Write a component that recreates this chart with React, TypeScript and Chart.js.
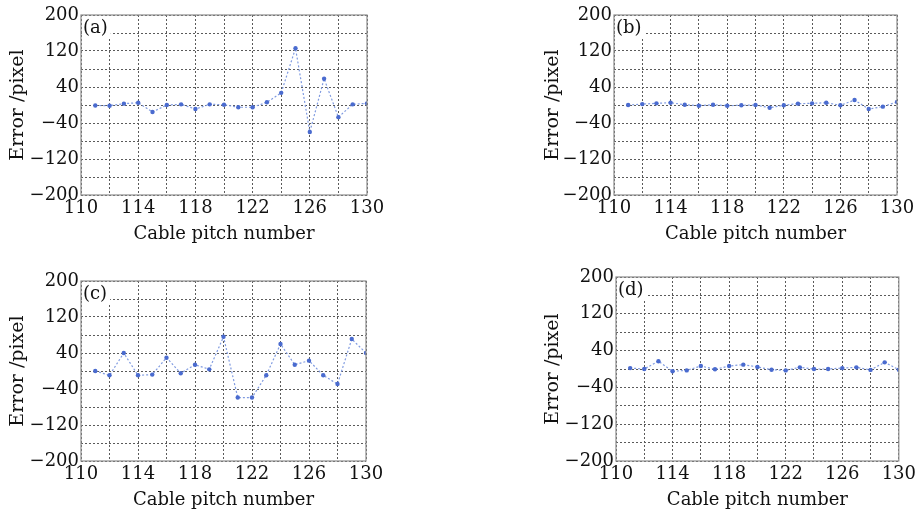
import React, { useEffect, useRef } from "react";
import { Chart, registerables } from "chart.js";

Chart.register(...registerables);

const pitchNumbers = [111, 112, 113, 114, 115, 116, 117, 118, 119, 120, 121, 122, 123, 124, 125, 126, 127, 128, 129, 130];
const errorsA = [-1, -1.5, 3, 5, -15.5, 0, 1.5, -9, 1.5, 0.7, -5, -5, 6, 27, 126, -60, 58.5, -27, 1.5, 3.7];
const errorsB = [0, 2, 3.7, 5, 0.7, -1.5, 0.7, -1.5, -0.7, 0, -6, -0.7, 3, 3.7, 5, -0.7, 11, -9, -3.7, 6.7];
const errorsC = [0, -9.6, 40, -9.6, -8, 29.6, -5, 14, 3.7, 76, -59, -59, -9.6, 60, 14, 23, -9.6, -29, 71, 40];
const errorsD = [2, 0, 17, -5, -3, 6.5, -0.7, 6.5, 9.5, 4.4, -1.5, -3, 3.6, 0, 0, 2, 3.6, -2, 14.5, -1.5];
const panelLabels = ["(a)", "(b)", "(c)", "(d)"];
const xTitle = "Cable pitch number";
const yTitle = "Error /pixel";

const FONT = "'DejaVu Serif', serif";

type Panel = {
  data: number[];
  label: string;
  cl: number; ct: number; cw: number; ch: number; // canvas box
  pl: number; pr: number; pt: number; pb: number; // plot box (absolute)
  ytc: number; // y title center (absolute x)
};

const panels: Panel[] = [
  { data: errorsA, label: panelLabels[0], cl: 0, ct: 0, cw: 400, ch: 250, pl: 81, pr: 367, pt: 15, pb: 195, ytc: 18.5 },
  { data: errorsB, label: panelLabels[1], cl: 520, ct: 0, cw: 399, ch: 250, pl: 614, pr: 897, pt: 15, pb: 195, ytc: 553.5 },
  { data: errorsC, label: panelLabels[2], cl: 0, ct: 256, cw: 400, ch: 257, pl: 81, pr: 366, pt: 281, pb: 461, ytc: 18.5 },
  { data: errorsD, label: panelLabels[3], cl: 520, ct: 256, cw: 399, ch: 257, pl: 616, pr: 899, pt: 277, pb: 461, ytc: 553.5 },
];

function ErrorChart({ p }: { p: Panel }) {
  const ref = useRef<HTMLCanvasElement>(null);
  useEffect(() => {
    if (!ref.current) return;
    const yWidth = p.pl - p.cl;
    const xHeight = p.ct + p.ch - p.pb;
    const padTop = p.pt - p.ct;
    const padRight = p.cl + p.cw - p.pr;
    const xTitleLH = 18 * 1.2;
    const yTitleLH = 19 * 1.2;
    const xTitlePad = xHeight - 39.5 - xTitleLH / 2;
    const yTitlePad = p.ytc - p.cl - yTitleLH / 2;

    const framePlugin = {
      id: "frame",
      afterDraw(chart: any) {
        const { ctx, chartArea: a } = chart;
        ctx.save();
        ctx.strokeStyle = "#8c8c8c";
        ctx.lineWidth = 1.2;
        ctx.strokeRect(a.left, a.top, a.right - a.left, a.bottom - a.top);
        ctx.font = `18px ${FONT}`;
        ctx.textBaseline = "alphabetic";
        const w = ctx.measureText(p.label).width;
        ctx.fillStyle = "#ffffff";
        ctx.fillRect(a.left + 1, a.top + 1, w + 4, 22);
        ctx.fillStyle = "#111";
        ctx.fillText(p.label, a.left + 2, a.top + 18);
        ctx.restore();
      },
    };

    const chart = new Chart(ref.current, {
      type: "line",
      data: {
        datasets: [
          {
            data: pitchNumbers.map((x, i) => ({ x, y: p.data[i] })),
            borderColor: "#7f9ae0",
            borderWidth: 1.2,
            borderDash: [2, 2],
            pointRadius: 2.2,
            pointStyle: "circle",
            pointBackgroundColor: "#4a6bcf",
            pointBorderColor: "#4a6bcf",
            pointBorderWidth: 0,
            tension: 0,
            fill: false,
          },
        ],
      },
      options: {
        animation: false,
        responsive: false,
        layout: { padding: { left: 0, top: padTop, right: padRight, bottom: 0 } },
        plugins: { legend: { display: false }, tooltip: { enabled: false } },
        scales: {
          x: {
            type: "linear",
            min: 110,
            max: 130,
            afterFit: (s: any) => { s.height = xHeight; },
            ticks: {
              stepSize: 2,
              autoSkip: false,
              maxRotation: 0,
              padding: 3,
              color: "#111",
              font: { family: FONT, size: 18 },
              callback: (v: any) => ((Number(v) - 110) % 4 === 0 ? String(v) : ""),
            },
            grid: { color: "#5a5a5a", drawTicks: false, lineWidth: 1 },
            border: { display: false, dash: [2, 2] },
            title: {
              display: true,
              text: xTitle,
              color: "#111",
              font: { family: FONT, size: 18 },
              padding: { top: 0, bottom: xTitlePad },
            },
          },
          y: {
            type: "linear",
            min: -200,
            max: 200,
            afterFit: (s: any) => { s.width = yWidth; },
            ticks: {
              stepSize: 40,
              autoSkip: false,
              padding: 2,
              color: "#111",
              font: { family: FONT, size: 18 },
              callback: (v: any) => {
                const n = Number(v);
                if ((n + 200) % 80 !== 0) return "";
                return n < 0 ? "\u2212" + Math.abs(n) : String(n);
              },
            },
            grid: { color: "#5a5a5a", drawTicks: false, lineWidth: 1 },
            border: { display: false, dash: [2, 2] },
            title: {
              display: true,
              text: yTitle,
              color: "#111",
              font: { family: FONT, size: 19 },
              padding: { top: yTitlePad, bottom: 0 },
            },
          },
        },
      },
      plugins: [framePlugin],
    } as any);
    return () => chart.destroy();
  }, [p]);
  return (
    <canvas
      ref={ref}
      width={p.cw}
      height={p.ch}
      style={{ position: "absolute", left: p.cl, top: p.ct, width: p.cw, height: p.ch }}
    />
  );
}

export default function App() {
  useEffect(() => {
    document.body.style.margin = "0";
  }, []);
  return (
    <div style={{ position: "absolute", left: 0, top: 0, width: 919, height: 513, background: "#fff", overflow: "hidden" }}>
      {panels.map((p) => (
        <ErrorChart key={p.label} p={p} />
      ))}
    </div>
  );
}
